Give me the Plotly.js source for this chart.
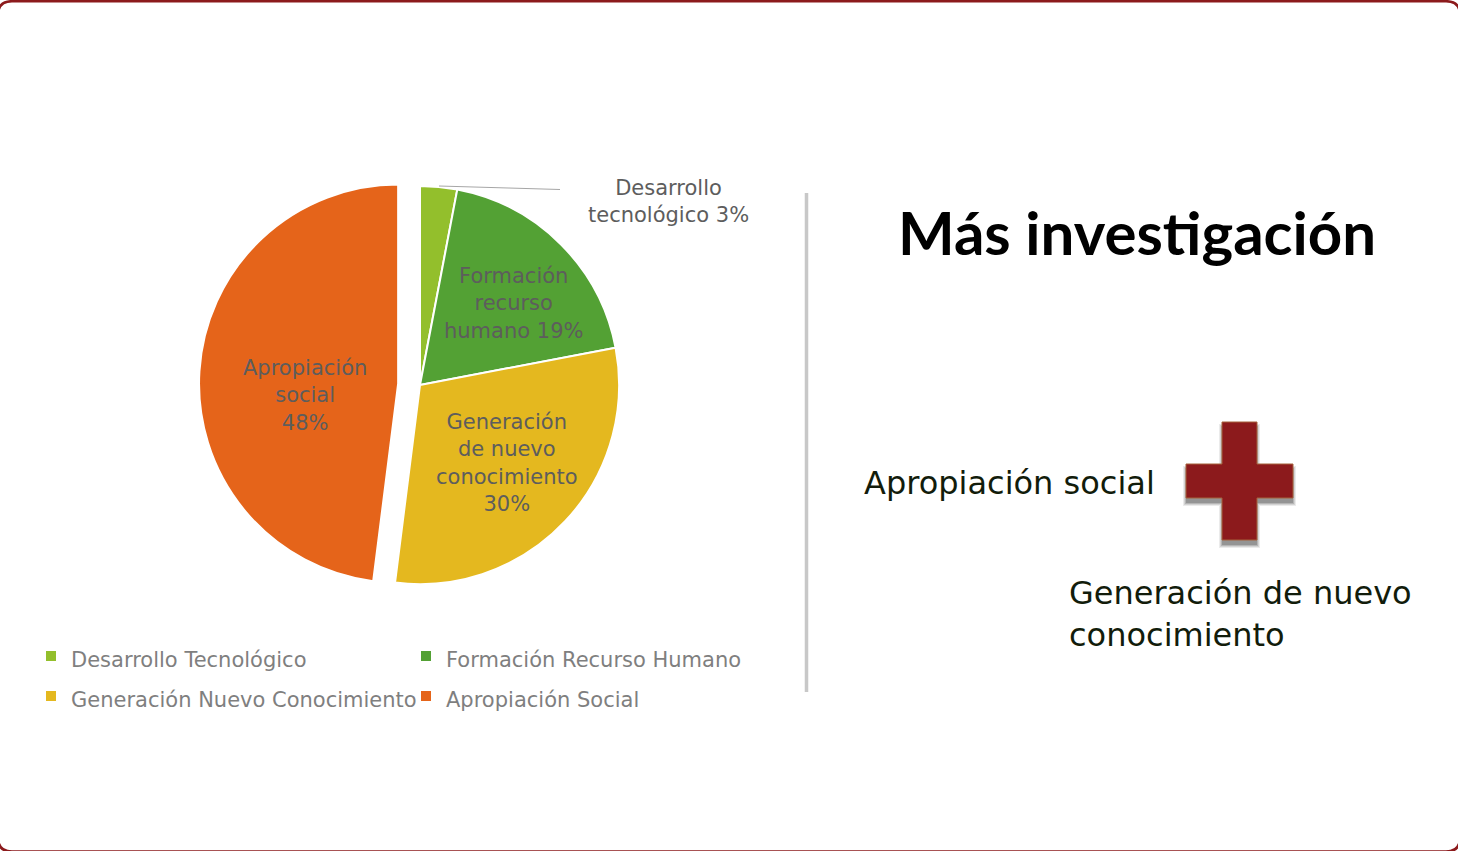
<!DOCTYPE html>
<html>
<head>
<meta charset="utf-8">
<script src="https://cdn.plot.ly/plotly-3.0.1.min.js"></script>
<style>
  html, body { margin: 0; padding: 0; background: #ffffff; }
  #chart { width: 1458px; height: 851px; }
</style>
</head>
<body>
<div id="chart"></div>
<script>
// ---- data ----
const categories = ['Desarrollo Tecnológico', 'Formación Recurso Humano', 'Generación Nuevo Conocimiento', 'Apropiación Social'];
const values = [3, 19, 30, 48];
const sliceNames = ['Desarrollo<br>tecnológico', 'Formación<br>recurso<br>humano', 'Generación<br>de nuevo<br>conocimiento', 'Apropiación<br>social'];
const percentSep = [' ', ' ', '<br>', '<br>'];
const sliceColors = ['#93BF2C', '#53A134', '#E4B81F', '#E5641A'];
const pulls = [0, 0, 0, 0.11];
const titleText = 'Más investigación';
const sideLeft = 'Apropiación social';
const sideRight = 'Generación de nuevo<br>conocimiento';

// ---- geometry helpers (page pixels -> paper) ----
const W = 1458, H = 851, MR = 678, PW = W - MR;
const fx = x => x / PW;
const fy = y => 1 - y / H;
const pathPx = pts => pts.map(p => (p[0] + fx(p[1]) + ',' + fy(p[2]))).join(' ') + ' Z';

const FONT = 'DejaVu Sans, Verdana, sans-serif';
const labelPos = [[668, 202], [513, 303], [507, 463], [305, 395]];

const annotations = values.map((v, i) => ({
  xref: 'paper', yref: 'paper',
  x: fx(labelPos[i][0]), y: fy(labelPos[i][1]),
  xanchor: 'center', yanchor: 'middle', align: 'center',
  showarrow: false,
  text: sliceNames[i] + percentSep[i] + v + '%',
  font: { family: FONT, size: 21, color: '#5d5d5d' }
}));

annotations.push({
  xref: 'paper', yref: 'paper', x: fx(1137), y: fy(232),
  xanchor: 'center', yanchor: 'middle', showarrow: false,
  text: titleText,
  font: { family: 'Lato, sans-serif', size: 60, weight: 700, color: '#000000' }
});
annotations.push({
  xref: 'paper', yref: 'paper', x: fx(862), y: fy(483),
  xanchor: 'left', yanchor: 'middle', showarrow: false,
  text: sideLeft,
  font: { family: FONT, size: 32, color: '#121c0b' }
});
annotations.push({
  xref: 'paper', yref: 'paper', x: fx(1067), y: fy(614),
  xanchor: 'left', yanchor: 'middle', align: 'left', showarrow: false,
  text: sideRight,
  font: { family: FONT, size: 32, color: '#121c0b' }
});

const shapes = [];
// outer rounded frame (sides fall just outside the page, as in the reference)
const r = 14, x0 = -2, x1 = 1460, y0 = 1.2, y1 = 851.6;
shapes.push({
  type: 'path', xref: 'paper', yref: 'paper',
  path: `M${fx(x0 + r)},${fy(y0)} L${fx(x1 - r)},${fy(y0)} Q${fx(x1)},${fy(y0)} ${fx(x1)},${fy(y0 + r)} ` +
        `L${fx(x1)},${fy(y1 - r)} Q${fx(x1)},${fy(y1)} ${fx(x1 - r)},${fy(y1)} L${fx(x0 + r)},${fy(y1)} ` +
        `Q${fx(x0)},${fy(y1)} ${fx(x0)},${fy(y1 - r)} L${fx(x0)},${fy(y0 + r)} Q${fx(x0)},${fy(y0)} ${fx(x0 + r)},${fy(y0)} Z`,
  line: { color: '#8C1A1C', width: 2.5 }, fillcolor: 'rgba(0,0,0,0)'
});
// divider
shapes.push({
  type: 'line', xref: 'paper', yref: 'paper',
  x0: fx(806.5), x1: fx(806.5), y0: fy(193), y1: fy(692),
  line: { color: '#C8C8C8', width: 3.5 }
});
// leader line for the small slice label
shapes.push({
  type: 'line', xref: 'paper', yref: 'paper',
  x0: fx(439), y0: fy(186), x1: fx(560), y1: fy(189.5),
  line: { color: '#A6A6A6', width: 1 }
});
// cross (with soft shadow)
function crossPath(dx, dy, g) {
  const a = [
    ['M', 1222 - g + dx, 422 - g + dy], ['L', 1257 + g + dx, 422 - g + dy], ['L', 1257 + g + dx, 464 - g + dy],
    ['L', 1293 + g + dx, 464 - g + dy], ['L', 1293 + g + dx, 498 + g + dy], ['L', 1257 + g + dx, 498 + g + dy],
    ['L', 1257 + g + dx, 540 + g + dy], ['L', 1222 - g + dx, 540 + g + dy], ['L', 1222 - g + dx, 498 + g + dy],
    ['L', 1186 - g + dx, 498 + g + dy], ['L', 1186 - g + dx, 464 - g + dy], ['L', 1222 - g + dx, 464 - g + dy]
  ];
  return pathPx(a);
}
[[3, 'rgba(0,0,0,0.08)'], [2, 'rgba(0,0,0,0.10)'], [1, 'rgba(0,0,0,0.14)'], [0, 'rgba(0,0,0,0.18)']].forEach(s => {
  shapes.push({ type: 'path', xref: 'paper', yref: 'paper', path: crossPath(0, 5, s[0]),
    line: { width: 0 }, fillcolor: s[1] });
});
shapes.push({ type: 'path', xref: 'paper', yref: 'paper', path: crossPath(0, 0, 0),
  line: { color: '#A5603A', width: 1 }, fillcolor: '#8C1A1C' });

const trace = {
  type: 'pie',
  labels: categories.map(c => '<span style="font-size:21px">' + c + '</span>'),
  values: values,
  sort: false,
  direction: 'clockwise',
  rotation: 0,
  pull: pulls,
  marker: { colors: sliceColors, line: { color: '#ffffff', width: 2 } },
  textinfo: 'none',
  hoverinfo: 'label+percent',
  domain: { x: [fx(199), fx(641)], y: [fy(606), fy(164)] }
};

const layout = {
  width: W, height: H,
  margin: { l: 0, r: MR, t: 0, b: 0, pad: 0 },
  paper_bgcolor: '#ffffff', plot_bgcolor: '#ffffff',
  showlegend: true,
  legend: {
    orientation: 'h', x: fx(31), xanchor: 'left', y: fy(631), yanchor: 'top',
    entrywidth: 330, entrywidthmode: 'pixels',
    font: { family: FONT, size: 28.5, color: '#7f7f7f' },
    bgcolor: 'rgba(0,0,0,0)', borderwidth: 0, itemclick: false
  },
  annotations: annotations,
  shapes: shapes
};

Plotly.newPlot('chart', [trace], layout, { displayModeBar: false, staticPlot: true });
</script>
</body>
</html>
